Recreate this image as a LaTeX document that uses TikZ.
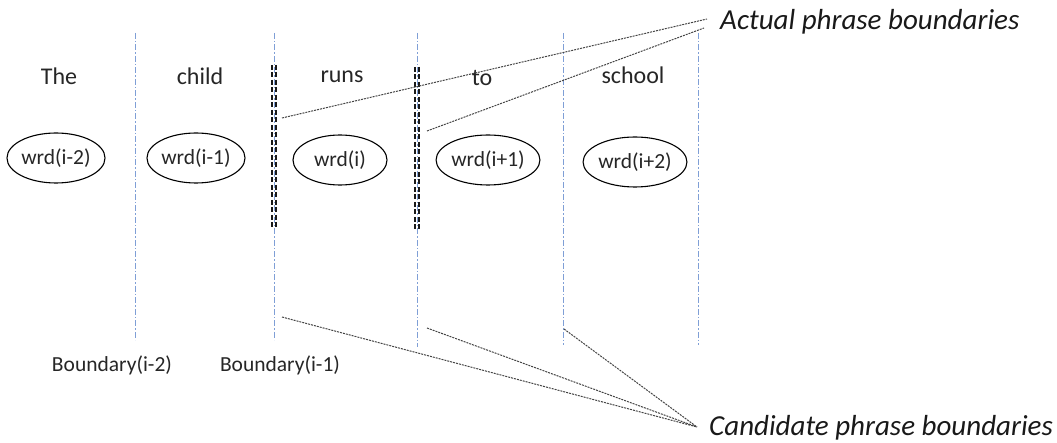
\documentclass[tikz,border=0pt]{standalone}
\usepackage{fontspec}
\setmainfont{Carlito}
\usetikzlibrary{shapes.geometric}
\definecolor{gridblue}{HTML}{7F9FD6}
\definecolor{leader}{HTML}{444444}
\tikzset{
  cand/.style={draw=gridblue, line width=1pt, dash pattern=on 6pt off 2pt on 1.5pt off 2pt},
  actual/.style={draw=black!90, line width=1.7pt, dash pattern=on 5pt off 2.5pt},
  leaderline/.style={draw=leader, line width=1pt, dash pattern=on 2pt off 1pt},
  word/.style={font=\fontsize{24}{28}\selectfont, text=black!85},
  wrd/.style={ellipse, draw, line width=1.1pt, minimum width=94pt, minimum height=50pt, inner sep=0pt, font=\fontsize{21.5}{25}\selectfont, text=black!85},
  blabel/.style={font=\fontsize{21.5}{25}\selectfont, text=black!85},
  note/.style={font=\fontsize{29}{34}\selectfont\itshape, text=black!90, anchor=west, inner sep=0pt}
}
\begin{document}
\begin{tikzpicture}[x=1pt,y=-1pt]
\useasboundingbox (0,0) rectangle (1057,443);
% candidate boundary lines
\draw[cand] (135,33) -- (135,340);
\draw[cand] (274,33) -- (274,340);
\draw[cand] (417,33) -- (417,347);
\draw[cand] (563,33) -- (563,345);
\draw[cand] (698,33) -- (698,345);
% actual boundaries
\draw[actual] (272.3,65) -- (272.3,228);
\draw[actual] (275.7,65) -- (275.7,228);
\draw[actual] (415.3,67) -- (415.3,230);
\draw[actual] (418.7,67) -- (418.7,230);
% words
\node[word] (w1) at (59,76) {The};
\node[word] (w2) at (200,76) {child};
\node[word] (w3) at (342,77) {runs};
\node[word] (w4) at (482,78) {to};
\node[word] (w5) at (633,75) {school};
% ellipses
\node[wrd] (e1) at (56,158) {wrd(i-2)};
\node[wrd] (e2) at (196,158) {wrd(i-1)};
\node[wrd] (e3) at (340,160) {wrd(i)};
\node[wrd] (e4) at (488,160) {wrd(i+1)};
\node[wrd] (e5) at (635,162) {wrd(i+2)};
% boundary labels
\node[blabel] (b1) at (112,365) {Boundary(i-2)};
\node[blabel] (b2) at (280,365) {Boundary(i-1)};
% notes
\node[note] (act) at (720,22) {Actual phrase boundaries};
\node[note] (can) at (709,428) {Candidate phrase boundaries};
% leader points
\coordinate (a1) at (282,118);
\coordinate (a2) at (427,131);
\coordinate (ae1) at (707,19);
\coordinate (ae2) at (704,28);
\coordinate (c1) at (282,317);
\coordinate (c2) at (427,328);
\coordinate (c3) at (564,329);
\coordinate (ce) at (697,427);
\draw[leaderline] (a1) -- (ae1);
\draw[leaderline] (a2) -- (ae2);
\draw[leaderline] (c1) -- (ce);
\draw[leaderline] (c2) -- (ce);
\draw[leaderline] (c3) -- (ce);
\end{tikzpicture}
\end{document}
